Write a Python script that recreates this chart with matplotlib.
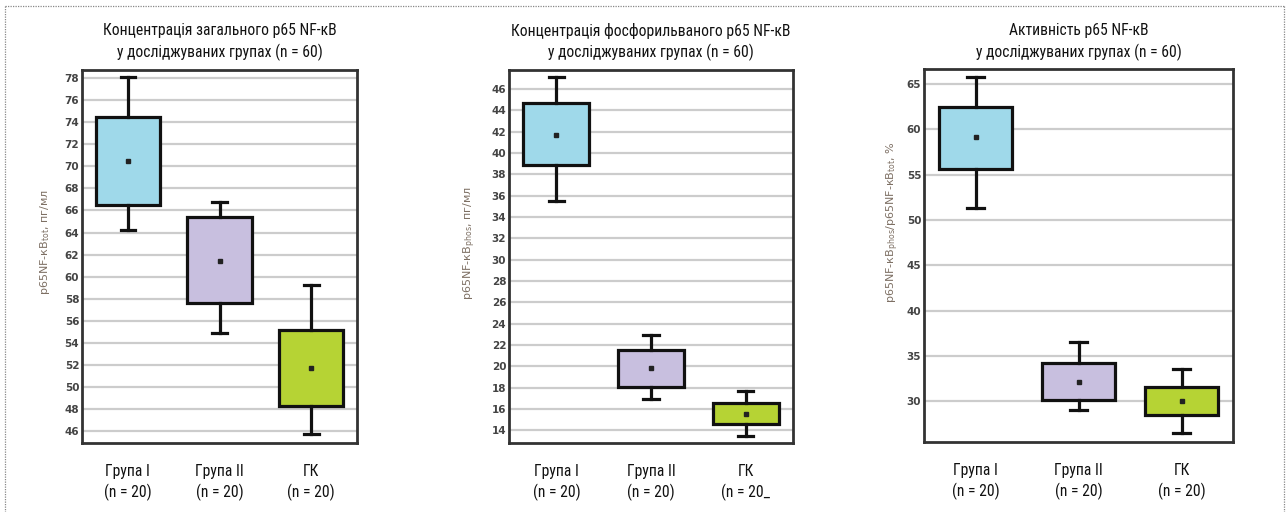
import matplotlib
matplotlib.use("Agg")
import matplotlib.pyplot as plt
from matplotlib.lines import Line2D
from matplotlib import font_manager
import numpy as np

W, H = 1287, 512

# ---- data -------------------------------------------------------------
groups = ["Група I\n(n = 20)", "Група II\n(n = 20)", "ГК\n(n = 20)"]
groups_phos = ["Група I\n(n = 20)", "Група II\n(n = 20)", "ГК\n(n = 20_"]

tot_whislo = [64.2, 54.9, 45.7]
tot_q1 = [66.5, 57.6, 48.3]
tot_mean = [70.5, 61.4, 51.7]
tot_q3 = [74.5, 65.4, 55.2]
tot_whishi = [78.1, 66.8, 59.2]

phos_whislo = [35.5, 16.9, 13.5]
phos_q1 = [38.9, 18.1, 14.6]
phos_mean = [41.7, 19.8, 15.5]
phos_q3 = [44.7, 21.5, 16.6]
phos_whishi = [47.1, 22.9, 17.7]

act_whislo = [51.3, 29.0, 26.5]
act_q1 = [55.6, 30.1, 28.5]
act_mean = [59.1, 32.1, 30.0]
act_q3 = [62.5, 34.2, 31.6]
act_whishi = [65.8, 36.5, 33.6]

titles = [
    "Концентрація загального p65 NF-кB\nу досліджуваних групах (n = 60)",
    "Концентрація фосфорильваного p65 NF-кB\nу досліджуваних групах (n = 60)",
    "Активність p65 NF-кB\nу досліджуваних групах (n = 60)",
]
ylabels = [
    r"p65NF-кB$_{\rm tot}$, пг/мл",
    r"p65NF-кB$_{\rm phos}$, пг/мл",
    r"p65NF-кB$_{\rm phos}$/p65NF-кB$_{\rm tot}$, %",
]

box_colors = ["#9fd9ea", "#c8bfdf", "#b6d334"]

# narrow text face: pick the first condensed font file that is installed
preferred = ["LiberationSansNarrow-Regular.ttf", "RobotoCondensed-Regular.ttf",
             "Roboto_Condensed-Regular.ttf", "OpenSans_Condensed-Regular.ttf",
             "OpenSansCondensed-Regular.ttf", "DejaVuSansCondensed.ttf"]
files = {f.split("/")[-1]: f for f in font_manager.findSystemFonts()}
cond_file = next((files[n] for n in preferred if n in files), None)


def cond(size):
    if cond_file:
        return font_manager.FontProperties(fname=cond_file, size=size)
    return font_manager.FontProperties(family="DejaVu Sans", size=size)


# size the narrow face so the first title line is about 232 px wide
fig = plt.figure(figsize=(W / 100, H / 100), dpi=100)
renderer = fig.canvas.get_renderer()
probe = fig.text(0, 0, "Концентрація загального p65 NF-кB", fontproperties=cond(10))
w10 = probe.get_window_extent(renderer).width
probe.remove()
TXT_SIZE = min(13.0, 10 * 232 / w10)
LSP = 1.38

# ---- layout (pixel boxes: left, right, top, bottom) -------------------
panels = [
    dict(box=(82, 357, 70, 443), ylim=(44.9, 78.75), ticks=np.arange(46, 79, 2),
         lab_x=45, lab_y=242, stats=(tot_whislo, tot_q1, tot_mean, tot_q3, tot_whishi),
         xt=groups),
    dict(box=(509, 793, 70, 443), ylim=(12.8, 47.8), ticks=np.arange(14, 47, 2),
         lab_x=470, lab_y=243, stats=(phos_whislo, phos_q1, phos_mean, phos_q3, phos_whishi),
         xt=groups_phos),
    dict(box=(924, 1233, 69, 442), ylim=(25.5, 66.65), ticks=np.arange(30, 66, 5),
         lab_x=893, lab_y=222, stats=(act_whislo, act_q1, act_mean, act_q3, act_whishi),
         xt=groups),
]

fig.patch.set_facecolor("white")

for i, p in enumerate(panels):
    l, r, t, b = p["box"]
    ax = fig.add_axes([l / W, 1 - b / H, (r - l) / W, (b - t) / H])
    lo, q1, mn, q3, hi = p["stats"]
    stats = []
    for k in range(3):
        stats.append(dict(whislo=lo[k], q1=q1[k], med=mn[k], q3=q3[k],
                          whishi=hi[k], mean=mn[k], fliers=[], label=""))
    bp = ax.bxp(stats, positions=[1, 2, 3], widths=0.70, patch_artist=True,
                showmeans=True, showfliers=False,
                boxprops=dict(edgecolor="#111111", linewidth=2.3),
                whiskerprops=dict(color="#111111", linewidth=2.3),
                capprops=dict(color="#111111", linewidth=2.3),
                medianprops=dict(linewidth=0),
                meanprops=dict(marker="s", markersize=2.2, markerfacecolor="#222222",
                               markeredgecolor="#222222"),
                capwidths=0.16, zorder=3)
    for patch, c in zip(bp["boxes"], box_colors):
        patch.set_facecolor(c)

    ax.set_xlim(0.5, 3.5)
    ax.set_ylim(*p["ylim"])
    ax.set_yticks(p["ticks"])
    ax.set_yticklabels([str(v) for v in p["ticks"]], fontsize=7.5,
                       fontweight="bold", color="#444444", family="DejaVu Sans")
    ax.yaxis.grid(True, color="#cccccc", linewidth=1.6, zorder=0)
    ax.set_axisbelow(True)
    ax.tick_params(axis="y", length=0, pad=2)
    ax.tick_params(axis="x", length=0, pad=15)
    ax.set_xticks([1, 2, 3])
    ax.set_xticklabels(p["xt"], fontproperties=cond(TXT_SIZE),
                       color="#111111", linespacing=LSP)
    for s in ax.spines.values():
        s.set_linewidth(2.0)
        s.set_color("#333333")

    cx = (l + r) / 2
    fig.text(cx / W, 1 - 42 / H, titles[i], ha="center", va="center",
             fontproperties=cond(TXT_SIZE), color="#111111", linespacing=LSP)
    fig.text(p["lab_x"] / W, 1 - p["lab_y"] / H, ylabels[i], rotation=90,
             ha="center", va="center", fontsize=8, family="DejaVu Sans",
             color="#7d6f63")

# dotted frame around the figure
def fx(x):
    return x / W

def fy(y):
    return 1 - y / H

frame_kw = dict(color="#888888", linewidth=0.9, linestyle=(0, (1, 1)))
fig.add_artist(Line2D([fx(5), fx(1284)], [fy(6), fy(6)], **frame_kw))
fig.add_artist(Line2D([fx(5), fx(5)], [fy(6), fy(520)], **frame_kw))
fig.add_artist(Line2D([fx(1284), fx(1284)], [fy(6), fy(520)], **frame_kw))

fig.savefig("out.png", dpi=100, facecolor="white")
